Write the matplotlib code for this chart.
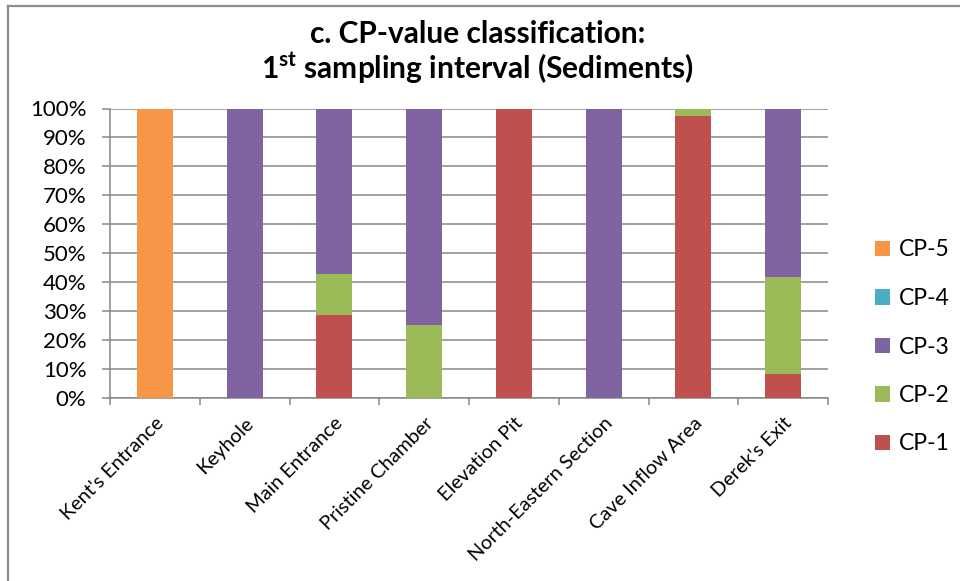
import matplotlib
matplotlib.use("Agg")
import matplotlib.pyplot as plt
from matplotlib.lines import Line2D
from matplotlib.ticker import PercentFormatter, FixedLocator, NullFormatter
import numpy as np

FONT = "Lato"
plt.rcParams["font.family"] = [FONT, "DejaVu Sans"]
plt.rcParams["mathtext.fontset"] = "custom"
plt.rcParams["mathtext.bf"] = f"{FONT}:bold"
plt.rcParams["mathtext.rm"] = FONT

# Sampling sites and percentage share of each CP class (sediments, 1st interval)
sites = ["Kent's Entrance", "Keyhole", "Main Entrance", "Pristine Chamber",
         "Elevation Pit", "North-Eastern Section", "Cave Inflow Area", "Derek's Exit"]
cp1 = [0, 0, 28.6, 0, 100, 0, 97.5, 8.3]
cp2 = [0, 0, 14.3, 25.0, 0, 0, 2.5, 33.4]
cp3 = [0, 100, 57.1, 75.0, 0, 100, 0, 58.3]
cp4 = [0, 0, 0, 0, 0, 0, 0, 0]
cp5 = [100, 0, 0, 0, 0, 0, 0, 0]

series = [("CP-1", cp1, "#C0504D"), ("CP-2", cp2, "#9BBB59"),
          ("CP-3", cp3, "#8064A2"), ("CP-4", cp4, "#4BACC6"),
          ("CP-5", cp5, "#F79646")]

W, H = 960, 581
fig = plt.figure(figsize=(W / 100, H / 100), dpi=100)
ax = fig.add_axes([110 / W, 1 - 397.5 / H, (828 - 110) / W, (397.5 - 108.5) / H])

x = np.arange(len(sites))
bottom = np.zeros(len(sites))
handles = []
for name, vals, color in series:
    vals = np.array(vals, dtype=float)
    b = ax.bar(x, vals, width=0.4, bottom=bottom, color=color, label=name,
               linewidth=0, zorder=3)
    handles.append(b)
    bottom += vals

grid_c = "#878787"
ax.set_xlim(-0.5, len(sites) - 0.5)
ax.set_ylim(0, 100)
ax.yaxis.set_major_locator(FixedLocator(np.arange(0, 101, 10)))
ax.yaxis.set_major_formatter(PercentFormatter(decimals=0))
ax.grid(axis="y", color=grid_c, linewidth=1.1, zorder=0)
ax.set_axisbelow(True)

# category boundary ticks, labels centred under bars
ax.set_xticks(np.arange(-0.5, len(sites)), minor=False)
ax.xaxis.set_major_formatter(NullFormatter())
ax.set_xticks(x, minor=True)
ax.set_xticklabels(sites, minor=True, rotation=45, ha="right",
                   rotation_mode="anchor", fontsize=14.3)
ax.tick_params(axis="x", which="minor", length=0, pad=12)
ax.tick_params(axis="x", which="major", length=5, width=1.1, color=grid_c)
ax.tick_params(axis="y", length=6, width=1.1, color=grid_c, labelsize=16, pad=11)

for s in ("top", "right"):
    ax.spines[s].set_visible(False)
for s in ("left", "bottom"):
    ax.spines[s].set_color(grid_c)
    ax.spines[s].set_linewidth(1.1)

leg = fig.legend(handles=handles[::-1], labels=[s[0] for s in series][::-1],
                 loc="center left", bbox_to_anchor=(864 / W, 1 - 347 / H),
                 frameon=False, fontsize=16.5, handlelength=0.65, handleheight=0.65,
                 handletextpad=0.35, labelspacing=1.2, borderpad=0)

fig.text(477.5 / W, 1 - 43 / H, "c. CP-value classification:", ha="center",
         va="baseline", fontsize=21.5, fontweight="bold")
fig.text(477.5 / W, 1 - 79 / H, r"1$^{\mathbf{st}}$ sampling interval (Sediments)",
         ha="center", va="baseline", fontsize=21.5, fontweight="bold")

# outer chart border
bc = "#8c8c8c"
fig.add_artist(Line2D([8 / W, 8 / W], [0, 1 - 6 / H], color=bc, lw=1.6,
                      transform=fig.transFigure))
fig.add_artist(Line2D([8 / W, 1], [1 - 6 / H, 1 - 6 / H], color=bc, lw=1.6,
                      transform=fig.transFigure))

fig.savefig("out.png", dpi=100)
